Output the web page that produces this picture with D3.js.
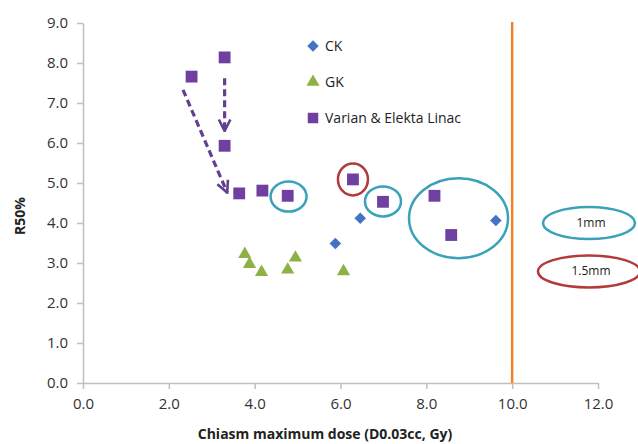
<!DOCTYPE html>
<html>
<head>
<meta charset="utf-8">
<script src="https://cdn.jsdelivr.net/npm/d3@7/dist/d3.min.js"></script>
<style>
  html, body { margin: 0; padding: 0; background: #fff; }
  svg { display: block; font-family: "Open Sans", "Noto Sans", sans-serif; }
</style>
</head>
<body>
<svg id="chart" width="638" height="444"></svg>
<script>
// series: [dose, R50%]
const ckPoints = [[6.46, 4.12], [5.88, 3.49], [9.62, 4.06]];
const gkPoints = [[3.77, 3.22], [3.88, 2.97], [4.16, 2.77], [4.77, 2.83], [4.95, 3.13], [6.07, 2.79]];
const linacPoints = [
  [2.53, 7.66], [3.30, 8.14], [3.30, 5.93], [3.64, 4.74], [4.18, 4.81],
  [4.77, 4.68], [6.29, 5.09], [6.99, 4.53], [8.19, 4.68], [8.58, 3.70]
];
const xTicks = [0, 2, 4, 6, 8, 10, 12];
const yTicks = [0, 1, 2, 3, 4, 5, 6, 7, 8, 9];
const doseLimit = 10;

// circled groups: centre in data units, radii in px
const circles = [
  { x: 4.79, y: 4.66, rx: 18, ry: 15, kind: "1mm" },
  { x: 6.29, y: 5.09, rx: 15, ry: 16, kind: "1.5mm" },
  { x: 6.99, y: 4.54, rx: 18, ry: 15, kind: "1mm" },
  { x: 8.75, y: 4.12, rx: 49.5, ry: 40, kind: "1mm" }
];
// dashed arrows [from, to]
const arrows = [
  [[2.33, 7.33], [3.36, 4.76]],
  [[3.30, 7.62], [3.30, 6.30]]
];
const legendItems = [
  { name: "CK", shape: "diamond" },
  { name: "GK", shape: "triangle" },
  { name: "Varian & Elekta Linac", shape: "square" }
];
const keyItems = [
  { label: "1mm", kind: "1mm", x: 11.79, y: 4.0 },
  { label: "1.5mm", kind: "1.5mm", x: 11.79, y: 2.79 }
];

const colors = { diamond: "#4472c4", triangle: "#8db146", square: "#7040a0" };
const ringColors = { "1mm": "#3aa2b8", "1.5mm": "#b23a3a" };

const svg = d3.select("#chart");
const x = d3.scaleLinear().domain([0, 12]).range([83, 598]);
const y = d3.scaleLinear().domain([0, 9]).range([383, 23]);

const symbolFor = {
  diamond: d3.symbol().type(d3.symbolDiamond2).size(85),
  triangle: d3.symbol().type(d3.symbolTriangle).size(75),
  square: d3.symbol().type(d3.symbolSquare).size(140)
};

// axes
const fmt = d3.format(".1f");
const xAxis = svg.append("g")
  .attr("transform", `translate(0,${y(0)})`)
  .call(d3.axisBottom(x).tickValues(xTicks).tickFormat(fmt).tickSize(6).tickSizeOuter(0));
const yAxis = svg.append("g")
  .attr("transform", `translate(${x(0)},0)`)
  .call(d3.axisLeft(y).tickValues(yTicks).tickFormat(fmt).tickSize(6).tickSizeOuter(0));

[xAxis, yAxis].forEach(g => {
  g.select(".domain").attr("stroke", "#bfbfbf").attr("stroke-width", 1.5);
  g.selectAll(".tick line").attr("stroke", "#bfbfbf").attr("stroke-width", 1.5);
  g.selectAll(".tick text").attr("fill", "#333").attr("font-size", 15)
    .attr("font-family", "'Open Sans', sans-serif");
});
xAxis.selectAll(".tick text").attr("dy", "1.15em");
yAxis.selectAll(".tick text").attr("x", -15);

// axis titles
svg.append("text")
  .attr("x", 325).attr("y", 439)
  .attr("text-anchor", "middle")
  .attr("font-size", 14).attr("font-weight", "bold").attr("fill", "#222")
  .text("Chiasm maximum dose (D0.03cc, Gy)");
svg.append("text")
  .attr("transform", "translate(25,216) rotate(-90)")
  .attr("text-anchor", "middle")
  .attr("font-size", 14).attr("font-weight", "bold").attr("fill", "#222")
  .text("R50%");

// dose limit line
svg.append("line")
  .attr("x1", x(doseLimit)).attr("x2", x(doseLimit))
  .attr("y1", y(0)).attr("y2", y(9) - 1)
  .attr("stroke", "#f0822a").attr("stroke-width", 2.5);

// arrows
const defs = svg.append("defs");
defs.append("marker")
  .attr("id", "vhead")
  .attr("viewBox", "0 0 10 10").attr("refX", 9).attr("refY", 5)
  .attr("markerWidth", 4.5).attr("markerHeight", 4.5)
  .attr("orient", "auto")
  .append("path")
  .attr("d", "M1,1 L9,5 L1,9")
  .attr("fill", "none").attr("stroke", "#62408f").attr("stroke-width", 1.8);

svg.append("g").selectAll("line").data(arrows).join("line")
  .attr("x1", d => x(d[0][0])).attr("y1", d => y(d[0][1]))
  .attr("x2", d => x(d[1][0])).attr("y2", d => y(d[1][1]))
  .attr("stroke", "#62408f").attr("stroke-width", 3.2)
  .attr("stroke-dasharray", "7,4")
  .attr("marker-end", "url(#vhead)");

// points
function drawSeries(points, shape) {
  svg.append("g").selectAll("path").data(points).join("path")
    .attr("transform", d => `translate(${x(d[0])},${y(d[1])})`)
    .attr("d", symbolFor[shape]())
    .attr("fill", colors[shape]);
}
drawSeries(ckPoints, "diamond");
drawSeries(gkPoints, "triangle");
drawSeries(linacPoints, "square");

// rings
svg.append("g").selectAll("ellipse").data(circles).join("ellipse")
  .attr("cx", d => x(d.x)).attr("cy", d => y(d.y))
  .attr("rx", d => d.rx).attr("ry", d => d.ry)
  .attr("fill", "none").attr("stroke", d => ringColors[d.kind]).attr("stroke-width", 2.5);

// legend
const legend = svg.append("g");
legendItems.forEach((item, i) => {
  const ly = 46 + i * 36;
  legend.append("path")
    .attr("transform", `translate(313,${ly})`)
    .attr("d", item.shape === "square"
      ? d3.symbol().type(d3.symbolSquare).size(110)()
      : symbolFor[item.shape]())
    .attr("fill", colors[item.shape]);
  legend.append("text")
    .attr("x", 325).attr("y", ly + 5)
    .attr("font-size", 14).attr("fill", "#222")
    .text(item.name);
});

// ring key
const key = svg.append("g");
keyItems.forEach(k => {
  key.append("ellipse")
    .attr("cx", x(k.x)).attr("cy", y(k.y))
    .attr("rx", k.kind === "1mm" ? 46 : 51).attr("ry", 16)
    .attr("fill", "none").attr("stroke", ringColors[k.kind]).attr("stroke-width", 2.5);
  key.append("text")
    .attr("x", x(k.x) + 2).attr("y", y(k.y) + 4)
    .attr("text-anchor", "middle")
    .attr("font-size", 12).attr("fill", "#222")
    .text(k.label);
});
</script>
</body>
</html>
